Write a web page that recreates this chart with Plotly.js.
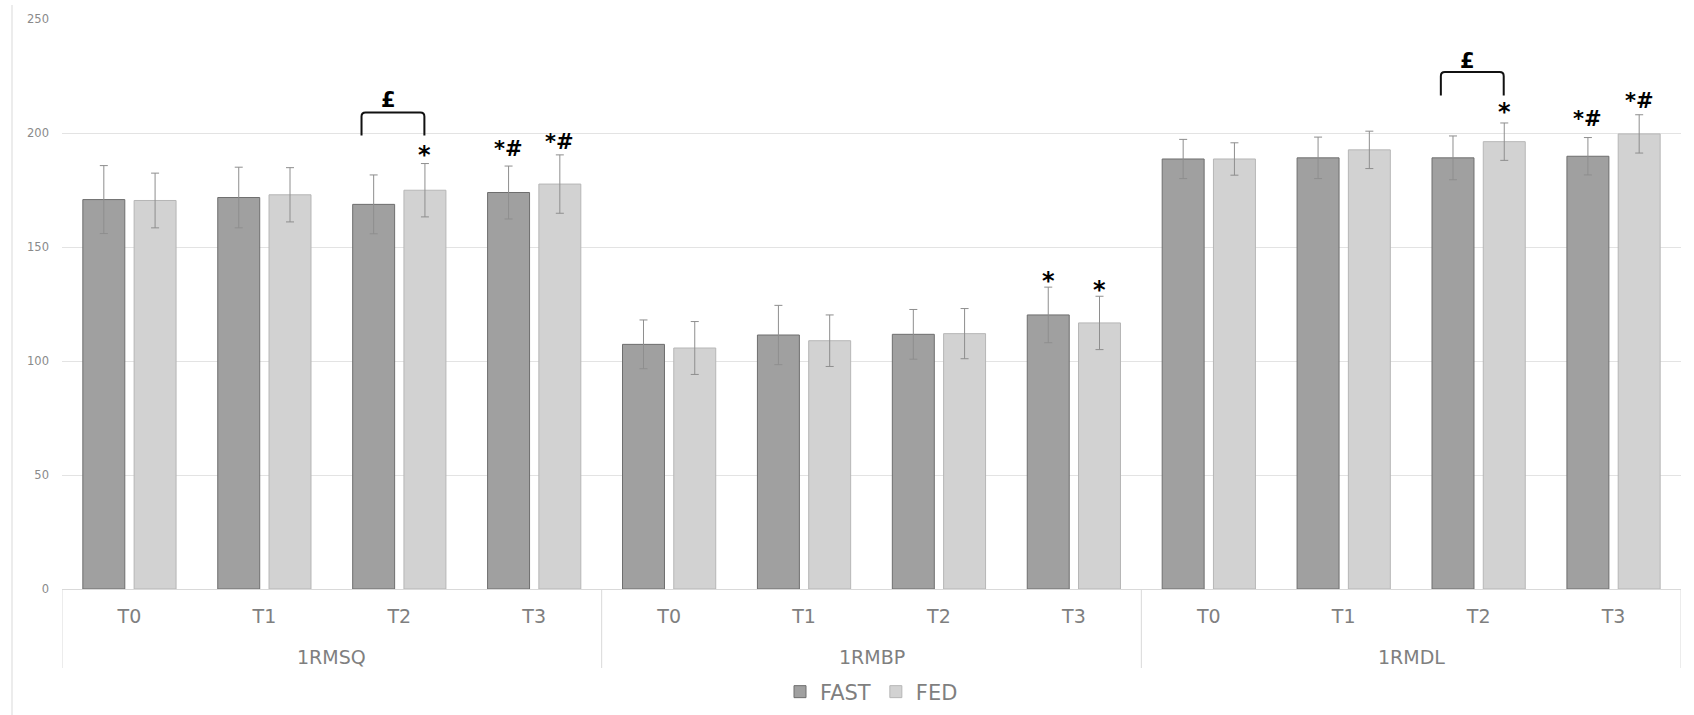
<!DOCTYPE html>
<html>
<head>
<meta charset="utf-8">
<script src="https://cdn.plot.ly/plotly-3.0.1.min.js"></script>
<style>
  html, body { margin: 0; padding: 0; background: #ffffff; }
  #chart { width: 1694px; height: 715px; }
</style>
</head>
<body>
<div id="chart"></div>
<script>
// ---- Data ----
const groups = ['1RMSQ', '1RMBP', '1RMDL'];
const times = ['T0', 'T1', 'T2', 'T3'];
const seriesNames = ['FAST', 'FED'];

const fastMean = [170.8, 171.7, 168.7, 173.9, 107.3, 111.4, 111.7, 120.2, 188.6, 189.1, 189.1, 189.8];
const fastSD   = [14.9, 13.3, 12.9, 11.6, 10.7, 13.0, 10.9, 12.2, 8.6, 9.1, 9.6, 8.2];
const fedMean  = [170.4, 172.9, 174.9, 177.6, 105.7, 108.9, 112.0, 116.7, 188.6, 192.6, 196.2, 199.6];
const fedSD    = [12.0, 11.9, 11.7, 12.8, 11.6, 11.3, 11.0, 11.7, 7.1, 8.2, 8.2, 8.4];

// significance marks: group index, time index, series, label, y value of the mark
const sigGroup  = [0, 0, 0, 1, 1, 2, 2, 2];
const sigTime   = [2, 3, 3, 3, 3, 2, 3, 3];
const sigSeries = ['FED', 'FAST', 'FED', 'FAST', 'FED', 'FED', 'FAST', 'FED'];
const sigText   = ['*', '*#', '*#', '*', '*', '*', '*#', '*#'];
const sigY      = [191.6, 192.4, 195.6, 136.2, 132.2, 210.2, 205.5, 213.5];

// brackets (£): group index, time index, top, bottom of legs, label y
const brGroup  = [0, 2];
const brTime   = [2, 2];
const brTop    = [209.0, 226.7];
const brBottom = [198.9, 216.5];
const brLabelY = [214.3, 231.8];
const brText   = ['£', '£'];

// ---- Build ----
const nT = times.length;
const xIdx = [];
const tickText = [];
groups.forEach((g, gi) => times.forEach((t, ti) => { xIdx.push(gi * nT + ti); tickText.push(t); }));

const barW = 0.311;
const halfSep = 0.19;
const seriesOffset = { FAST: -halfSep, FED: halfSep };

const errStyle = { type: 'data', visible: true, color: '#8e8e8e', thickness: 1, width: 4 };

const traces = [
  {
    type: 'bar', name: seriesNames[0], x: xIdx, y: fastMean,
    width: barW, offset: seriesOffset.FAST - barW / 2,
    marker: { color: '#a0a0a0', line: { color: '#6e6e6e', width: 1 } },
    error_y: Object.assign({ array: fastSD }, errStyle)
  },
  {
    type: 'bar', name: seriesNames[1], x: xIdx, y: fedMean,
    width: barW, offset: seriesOffset.FED - barW / 2,
    marker: { color: '#d2d2d2', line: { color: '#b6b6b6', width: 1 } },
    error_y: Object.assign({ array: fedSD }, errStyle)
  }
];

const plotH = 715 - 19 - 126;
const plotW = 1694 - 62 - 13;
const annotations = [];
const shapes = [];

// group labels
groups.forEach((g, gi) => {
  annotations.push({
    xref: 'x', yref: 'paper', x: gi * nT + (nT - 1) / 2, y: -68 / plotH,
    text: g, showarrow: false, yanchor: 'middle', xanchor: 'center',
    font: { family: 'DejaVu Sans', size: 19, color: '#7f7f7f' }
  });
});
// dividers
for (let k = 0; k <= groups.length; k++) {
  shapes.push({
    type: 'line', xref: 'x', yref: 'paper',
    x0: k * nT - 0.5, x1: k * nT - 0.5, y0: 0, y1: -79 / plotH,
    line: { color: '#d9d9d9', width: 1 }
  });
}
// left frame line
shapes.push({
  type: 'line', xref: 'paper', yref: 'paper',
  x0: -50 / plotW, x1: -50 / plotW, y0: (589 - 5) / plotH, y1: (589 - 715) / plotH,
  line: { color: '#d9d9d9', width: 1 }
});

// significance marks
sigText.forEach((txt, i) => {
  const single = txt === '*';
  annotations.push({
    xref: 'x', yref: 'y',
    x: sigGroup[i] * nT + sigTime[i] + seriesOffset[sigSeries[i]],
    y: sigY[i], text: '<b>' + txt + '</b>', showarrow: false,
    xanchor: 'center', yanchor: 'middle', yshift: single ? -2.5 : 1,
    font: { family: 'DejaVu Sans', size: single ? 24 : 21, color: '#000000' }
  });
});

// brackets
brText.forEach((txt, i) => {
  const c = brGroup[i] * nT + brTime[i];
  const x0 = c - 0.28, x1 = c + 0.186;
  const rx = 0.03, ry = 1.8;
  const t = brTop[i], b = brBottom[i];
  shapes.push({
    type: 'path', xref: 'x', yref: 'y',
    path: `M ${x0},${b} L ${x0},${t - ry} Q ${x0},${t} ${x0 + rx},${t} L ${x1 - rx},${t} Q ${x1},${t} ${x1},${t - ry} L ${x1},${b}`,
    line: { color: '#111111', width: 2 }
  });
  annotations.push({
    xref: 'x', yref: 'y', x: c - 0.08, y: brLabelY[i],
    text: '<b>' + txt + '</b>', showarrow: false, xanchor: 'center', yanchor: 'middle',
    font: { family: 'DejaVu Sans', size: 21, color: '#000000' }
  });
});

const layout = {
  width: 1694, height: 715,
  margin: { l: 62, r: 13, t: 19, b: 126, autoexpand: false },
  paper_bgcolor: '#ffffff', plot_bgcolor: '#ffffff',
  barmode: 'group',
  hovermode: false,
  showlegend: true,
  legend: {
    orientation: 'h', x: 0.5, xanchor: 'center',
    yref: 'container', y: 1 - 692 / 715, yanchor: 'middle',
    font: { family: 'DejaVu Sans', size: 21, color: '#7f7f7f' }, traceorder: 'normal'
  },
  xaxis: {
    type: 'linear', range: [-0.5, groups.length * nT - 0.5],
    tickmode: 'array', tickvals: xIdx, ticktext: tickText,
    showgrid: false, zeroline: false, showline: true, linecolor: '#d9d9d9', linewidth: 1,
    ticks: '', ticklabelstandoff: 10, automargin: false,
    tickfont: { family: 'DejaVu Sans', size: 19, color: '#7f7f7f' }
  },
  yaxis: {
    range: [0, 250], tickmode: 'linear', tick0: 0, dtick: 50,
    showgrid: true, gridcolor: '#e3e3e3', gridwidth: 1, automargin: false,
    zeroline: false, showline: false, ticks: '', ticklabelstandoff: 12,
    tickfont: { family: 'DejaVu Sans', size: 11.5, color: '#8a8a8a' }
  },
  annotations: annotations,
  shapes: shapes
};

Plotly.newPlot('chart', traces, layout, { displayModeBar: false, staticPlot: true });
</script>
</body>
</html>
